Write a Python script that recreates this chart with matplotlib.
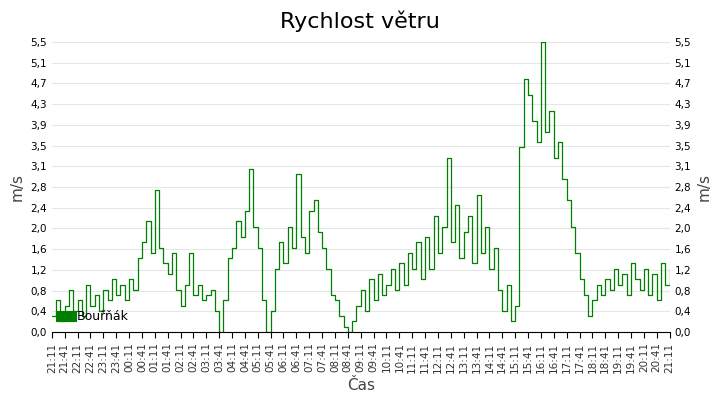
import matplotlib
matplotlib.use("Agg")
import matplotlib.pyplot as plt
import numpy as np
from matplotlib.ticker import FixedLocator

start_label = "21:11"
speed = [0.3,0.6,0.2, 0.5,0.8,0.4, 0.6,0.3,0.9, 0.5,0.7,0.4, 0.8,0.6,1.0, 0.7,0.9,0.6,
         1.0,0.8,1.4, 1.7,2.1,1.5, 2.7,1.6,1.3, 1.1,1.5,0.8, 0.5,0.9,1.5, 0.7,0.9,0.6,
         0.7,0.8,0.4, 0.0,0.6,1.4, 1.6,2.1,1.8, 2.3,3.1,2.0, 1.6,0.6,0.0, 0.4,1.2,1.7,
         1.3,2.0,1.6, 3.0,1.8,1.5, 2.3,2.5,1.9, 1.6,1.2,0.7, 0.6,0.3,0.1, 0.0,0.2,0.5,
         0.8,0.4,1.0, 0.6,1.1,0.7, 0.9,1.2,0.8, 1.3,0.9,1.5, 1.2,1.7,1.0, 1.8,1.2,2.2,
         1.5,2.0,3.3, 1.7,2.4,1.4, 1.9,2.2,1.3, 2.6,1.5,2.0, 1.2,1.6,0.8, 0.4,0.9,0.2,
         0.5,3.5,4.8, 4.5,4.0,3.6, 5.5,3.8,4.2, 3.3,3.6,2.9, 2.5,2.0,1.5, 1.0,0.7,0.3,
         0.6,0.9,0.7, 1.0,0.8,1.2, 0.9,1.1,0.7, 1.3,1.0,0.8, 1.2,0.7,1.1, 0.6,1.3,0.9, 1.2]
series_name = "Bouřňák"

t = np.arange(len(speed)) * 10  # minutes since 21:11
tick_min = np.arange(0, 24*60 + 1, 30)
labels = []
for m in tick_min:
    tot = 21*60 + 11 + m
    labels.append(f"{(tot//60)%24:02d}:{tot%60:02d}")

fig = plt.figure(figsize=(7.2, 4.0), dpi=100)
ax = fig.add_axes([0.072, 0.17, 0.858, 0.725])
ax.step(t, speed, where="post", color="#008000", lw=0.9, label=series_name)
ax.set_xlim(0, 24*60)
ax.set_ylim(0, 5.5)
yt = np.arange(15) * 5.5 / 14
ax.yaxis.set_major_locator(FixedLocator(yt))
ylabs = [f"{v:.1f}".replace(".", ",") for v in yt]
ax.set_yticklabels(ylabs, fontsize=7.5)
ax.set_xticks(tick_min)
ax.set_xticklabels(labels, rotation=90, fontsize=7.5, color="#333333")
ax.grid(axis="y", color="#e6e6e6", lw=0.8)
ax.set_axisbelow(True)
for s in ["top", "right", "left"]:
    ax.spines[s].set_visible(False)
ax.tick_params(axis="y", length=0, labelsize=7.5)
ax.tick_params(axis="x", length=4)
ax.set_ylabel("m/s", fontsize=11, color="#444444")
ax.set_xlabel("Čas", fontsize=11, color="#444444")
ax2 = ax.twinx()
ax2.set_ylim(0, 5.5)
ax2.yaxis.set_major_locator(FixedLocator(yt))
ax2.set_yticklabels(ylabs, fontsize=7.5)
ax2.tick_params(axis="y", length=0)
for s in ["top", "right", "left", "bottom"]:
    ax2.spines[s].set_visible(False)
ax2.set_ylabel("m/s", fontsize=11, color="#444444")
fig.suptitle("Rychlost větru", fontsize=16, y=0.975)
leg = ax.legend(loc="lower left", frameon=False, fontsize=9, handlelength=0.8,
                handletextpad=0.5, borderaxespad=0.3)
for h in leg.legend_handles:
    h.set_linewidth(8)
fig.savefig("out.png", dpi=100)
